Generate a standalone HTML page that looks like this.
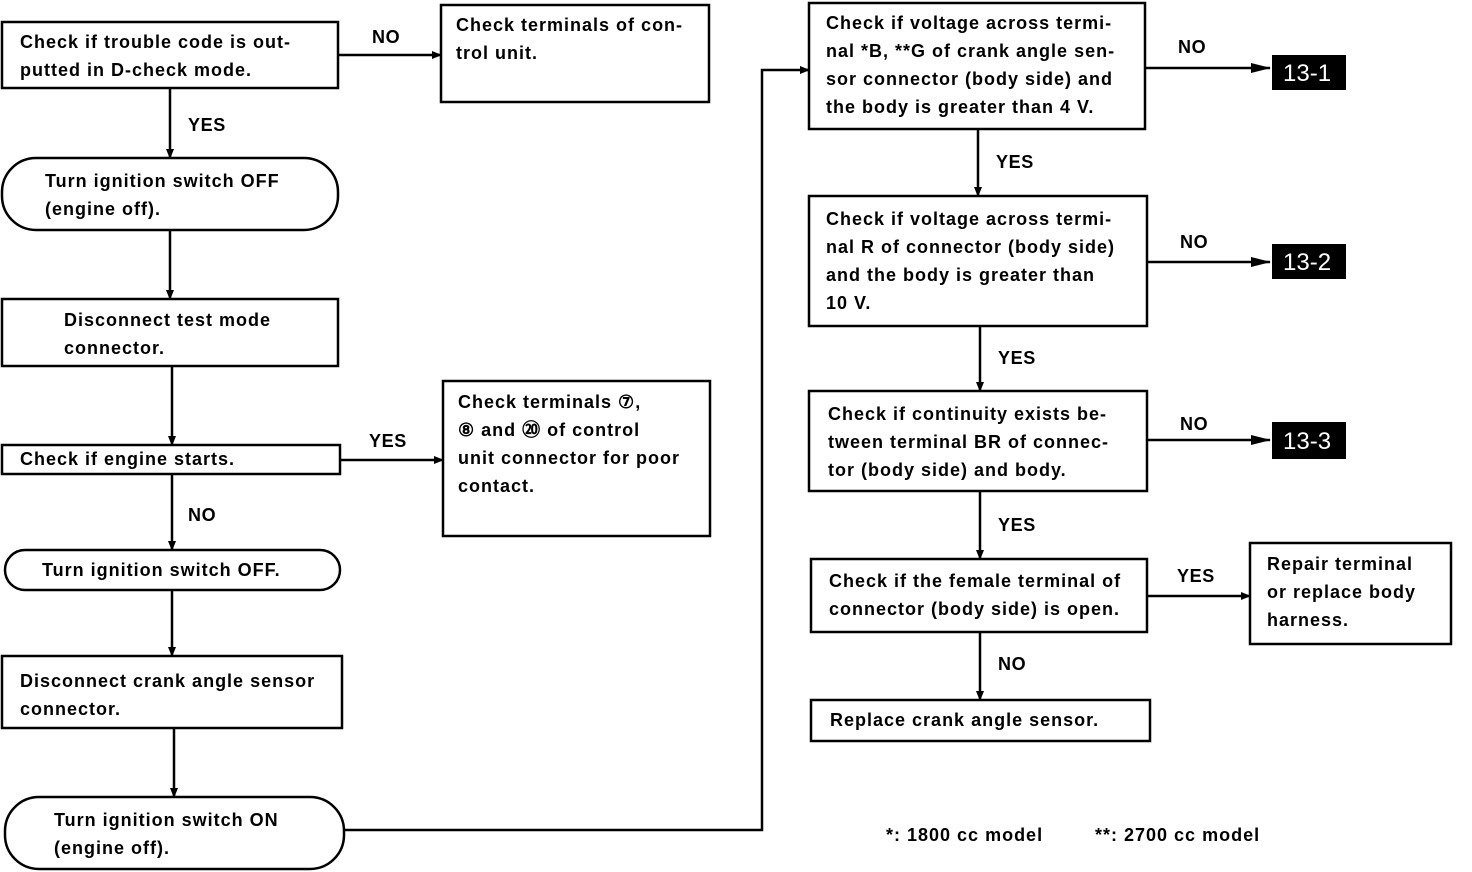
<!DOCTYPE html>
<html><head><meta charset="utf-8"><style>
html,body{margin:0;padding:0;background:#fff;}
svg{display:block;}
text{font-family:"Liberation Sans",sans-serif;font-weight:bold;font-size:18px;fill:#000;letter-spacing:1px;}
.l{font-size:18px;letter-spacing:0.6px;}
.w{fill:#fff;font-weight:normal;font-size:24px;letter-spacing:0;}
</style></head><body>
<svg width="1472" height="872" viewBox="0 0 1472 872" xmlns="http://www.w3.org/2000/svg">
<defs><marker id="a" markerWidth="10" markerHeight="8" refX="9" refY="4" orient="auto" markerUnits="userSpaceOnUse"><path d="M0,0 L10,4 L0,8 z" fill="#000"/></marker>
<marker id="b" markerWidth="20" markerHeight="10" refX="19" refY="5" orient="auto" markerUnits="userSpaceOnUse"><path d="M0,0 L20,5 L0,10 z" fill="#000"/></marker></defs>
<g fill="none" stroke="#000" stroke-width="2.5">
<rect x="2" y="22" width="336" height="66"/>
<rect x="441" y="5" width="268" height="97"/>
<rect x="2" y="158" width="336" height="72" rx="34"/>
<rect x="2" y="299" width="336" height="67"/>
<rect x="2" y="445" width="338" height="29"/>
<rect x="443" y="381" width="267" height="155"/>
<rect x="5" y="550" width="335" height="40" rx="20"/>
<rect x="2" y="656" width="340" height="72"/>
<rect x="5" y="797" width="339" height="72" rx="34"/>
<rect x="809" y="3" width="336" height="126"/>
<rect x="809" y="196" width="338" height="130"/>
<rect x="809" y="391" width="338" height="100"/>
<rect x="811" y="559" width="336" height="73"/>
<rect x="811" y="700" width="339" height="41"/>
<rect x="1250" y="543" width="201" height="101"/>
<path d="M338,55 H441" marker-end="url(#a)"/>
<path d="M170,88 V158" marker-end="url(#a)"/>
<path d="M170,230 V299" marker-end="url(#a)"/>
<path d="M172,366 V445" marker-end="url(#a)"/>
<path d="M340,460 H443" marker-end="url(#a)"/>
<path d="M172,474 V550" marker-end="url(#a)"/>
<path d="M172,590 V656" marker-end="url(#a)"/>
<path d="M174,728 V797" marker-end="url(#a)"/>
<path d="M344,830 H762 V70 H809" marker-end="url(#a)"/>
<path d="M978,129 V196" marker-end="url(#a)"/>
<path d="M980,326 V391" marker-end="url(#a)"/>
<path d="M980,491 V559" marker-end="url(#a)"/>
<path d="M980,632 V700" marker-end="url(#a)"/>
<path d="M1145,68 H1270" marker-end="url(#b)"/>
<path d="M1147,262 H1270" marker-end="url(#b)"/>
<path d="M1147,440 H1270" marker-end="url(#b)"/>
<path d="M1147,596 H1250" marker-end="url(#a)"/>
</g>
<rect x="1272" y="55" width="74" height="35" fill="#000"/>
<rect x="1272" y="244" width="74" height="35" fill="#000"/>
<rect x="1272" y="422" width="74" height="37" fill="#000"/>
<text class="w" x="1283" y="81">13-1</text>
<text class="w" x="1283" y="270">13-2</text>
<text class="w" x="1283" y="449">13-3</text>

<text x="20" y="48">Check if trouble code is out-</text>
<text x="20" y="76">putted in D-check mode.</text>
<text class="l" x="372" y="43">NO</text>
<text x="456" y="31">Check terminals of con-</text>
<text x="456" y="59">trol unit.</text>
<text class="l" x="188" y="131">YES</text>
<text x="45" y="187">Turn ignition switch OFF</text>
<text x="45" y="215">(engine off).</text>
<text x="64" y="326">Disconnect test mode</text>
<text x="64" y="354">connector.</text>
<text x="20" y="465">Check if engine starts.</text>
<text class="l" x="369" y="447">YES</text>
<text x="458" y="408">Check terminals ⑦,</text>
<text x="458" y="436">⑧ and  ⑳ of control</text>
<text x="458" y="464">unit connector for poor</text>
<text x="458" y="492">contact.</text>
<text class="l" x="188" y="521">NO</text>
<text x="42" y="576">Turn ignition switch OFF.</text>
<text x="20" y="687">Disconnect crank angle sensor</text>
<text x="20" y="715">connector.</text>
<text x="54" y="826">Turn ignition switch ON</text>
<text x="54" y="854">(engine off).</text>

<text x="826" y="29">Check if voltage across termi-</text>
<text x="826" y="57">nal *B, **G of crank angle sen-</text>
<text x="826" y="85">sor connector (body side) and</text>
<text x="826" y="113">the body is greater than 4 V.</text>
<text class="l" x="1178" y="53">NO</text>
<text class="l" x="996" y="168">YES</text>
<text x="826" y="225">Check if voltage across termi-</text>
<text x="826" y="253">nal R of connector (body side)</text>
<text x="826" y="281">and the body is greater than</text>
<text x="826" y="309">10 V.</text>
<text class="l" x="1180" y="248">NO</text>
<text class="l" x="998" y="364">YES</text>
<text x="828" y="420">Check if continuity exists be-</text>
<text x="828" y="448">tween terminal BR of connec-</text>
<text x="828" y="476">tor (body side) and body.</text>
<text class="l" x="1180" y="430">NO</text>
<text class="l" x="998" y="531">YES</text>
<text x="829" y="587">Check if the female terminal of</text>
<text x="829" y="615">connector (body side) is open.</text>
<text class="l" x="1177" y="582">YES</text>
<text x="1267" y="570">Repair terminal</text>
<text x="1267" y="598">or replace body</text>
<text x="1267" y="626">harness.</text>
<text class="l" x="998" y="670">NO</text>
<text x="830" y="726">Replace crank angle sensor.</text>
<text x="886" y="841">*:  1800 cc model</text>
<text x="1095" y="841">**:  2700 cc model</text>
</svg>
</body></html>
